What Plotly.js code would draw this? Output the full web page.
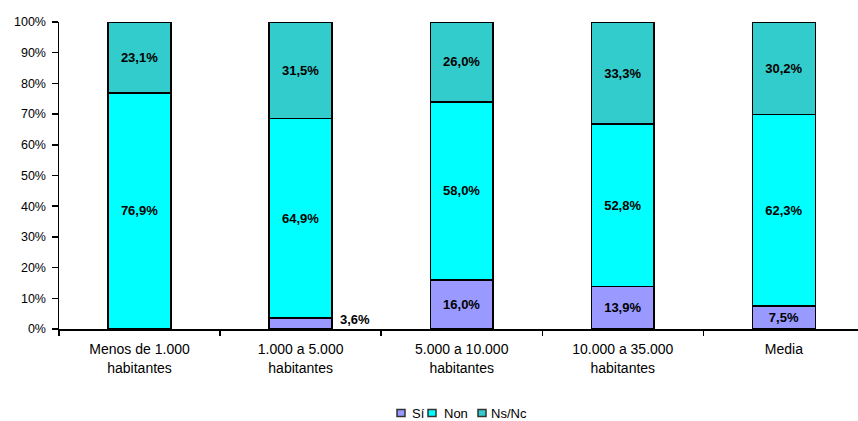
<!DOCTYPE html>
<html>
<head>
<meta charset="utf-8">
<script src="https://cdn.plot.ly/plotly-3.0.1.min.js"></script>
<style>html,body{margin:0;padding:0;background:#fff;}#chart{width:858px;height:421px;}</style>
</head>
<body>
<div id="chart"></div>
<script>
const categories = ["Menos de 1.000<br>habitantes", "1.000 a 5.000<br>habitantes", "5.000 a 10.000<br>habitantes", "10.000 a 35.000<br>habitantes", "Media"];
const seriesNames = ["Sí", "Non", "Ns/Nc"];
const si = [0, 3.6, 16.0, 13.9, 7.5];
const non = [76.9, 64.9, 58.0, 52.8, 62.3];
const nsnc = [23.1, 31.5, 26.0, 33.3, 30.2];
const colors = ["#9999FF", "#00FFFF", "#33CCCC"];
const yTicks = [0, 10, 20, 30, 40, 50, 60, 70, 80, 90, 100];

const fmt = v => v.toFixed(1).replace('.', ',') + '%';
const FONT = "Liberation Sans, Arial, sans-serif";
const SMALL = 5;

// plot area geometry (pixels)
const W = 858, H = 421, L = 59, T = 22, B = 92, R = 0;
const PW = W - L - R, PH = H - T - B;
const px2x = p => (p - L) / PW;
const py2y = p => (H - B - p) / PH;

function mk(vals, i, hideSmall) {
  return {
    type: 'bar', name: seriesNames[i], x: categories, y: vals,
    text: vals.map(v => (v === 0 || (hideSmall && v < SMALL)) ? '' : fmt(v)),
    textposition: 'inside', insidetextanchor: 'middle', textangle: 0,
    constraintext: 'none',
    textfont: {family: FONT, size: 13, color: '#000', weight: 'bold'},
    marker: {color: colors[i], line: {color: '#000', width: 1.5}},
    width: 0.39, hoverinfo: 'skip', showlegend: false
  };
}

const traces = [mk(si, 0, true), mk(non, 1, false), mk(nsnc, 2, false)];

const annotations = [];
si.forEach((v, k) => {
  if (v > 0 && v < SMALL) {
    annotations.push({x: categories[k], y: v / 2, text: '<b>' + fmt(v) + '</b>', showarrow: false,
      xanchor: 'left', yanchor: 'bottom', xshift: 37, yshift: -6,
      font: {family: FONT, size: 13, color: '#000'}});
  }
});

// custom compact legend (icon left pixel, text left pixel)
const legendIconX = [397, 428, 478];
const legendTextX = [410, 442, 489];
const legendY = 413;
const shapes = [];
seriesNames.forEach((n, i) => {
  shapes.push({type: 'rect', xref: 'paper', yref: 'paper',
    x0: px2x(legendIconX[i]), x1: px2x(legendIconX[i] + 8),
    y0: py2y(legendY + 3.5), y1: py2y(legendY - 3.5),
    fillcolor: colors[i], line: {color: '#333', width: 1.5}});
  annotations.push({xref: 'paper', yref: 'paper', x: px2x(legendTextX[i]), y: py2y(legendY),
    xanchor: 'left', yanchor: 'middle', showarrow: false, text: n,
    font: {family: FONT, size: 13, color: '#000'}});
});

const layout = {
  width: W, height: H,
  margin: {l: L, r: R, t: T, b: B},
  barmode: 'stack',
  paper_bgcolor: '#fff', plot_bgcolor: '#fff',
  font: {family: FONT, size: 12, color: '#000'},
  showlegend: false,
  xaxis: {
    range: [-0.5, 4.46], showline: true, linecolor: '#000', linewidth: 1.5,
    ticks: 'outside', tickson: 'boundaries', ticklen: 5, tickwidth: 1.5, tickcolor: '#000',
    ticklabelstandoff: 7,
    showgrid: false, zeroline: false, fixedrange: true, automargin: false,
    tickfont: {family: FONT, size: 14, color: '#000'}
  },
  yaxis: {
    range: [0, 100], tickvals: yTicks, ticktext: yTicks.map(t => t + '%'),
    showline: true, linecolor: '#000', linewidth: 1.5,
    ticks: 'outside', ticklen: 6, tickwidth: 1.5, tickcolor: '#000',
    ticklabelstandoff: 3,
    showgrid: false, zeroline: false, fixedrange: true, automargin: false,
    tickfont: {family: FONT, size: 12.5, color: '#000'}
  },
  shapes: shapes,
  annotations: annotations
};

Plotly.newPlot('chart', traces, layout, {staticPlot: true, displayModeBar: false});
</script>
</body>
</html>
